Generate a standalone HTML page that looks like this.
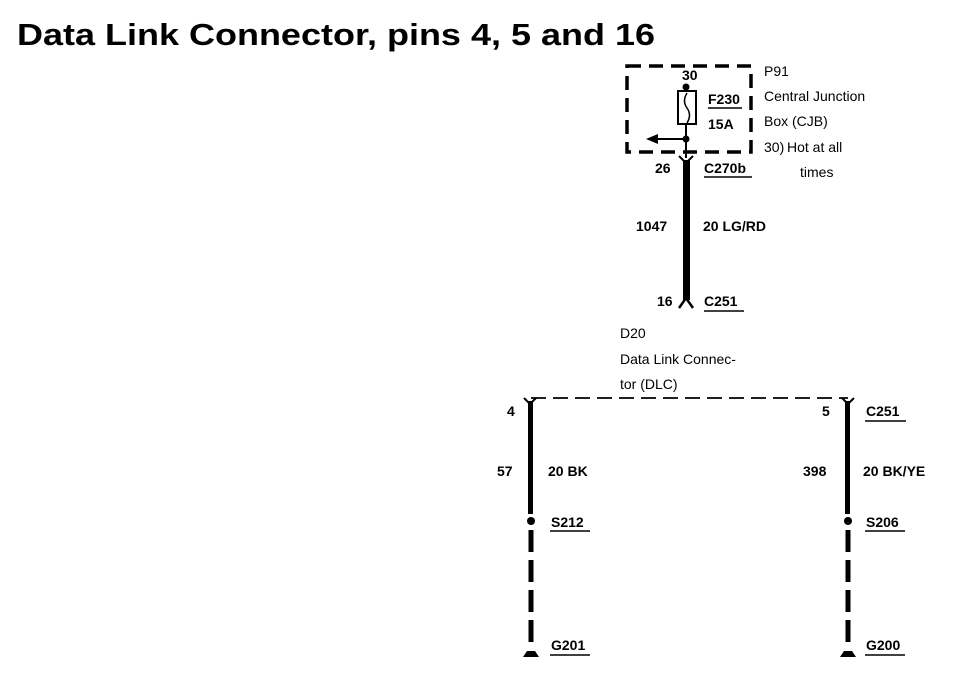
<!DOCTYPE html>
<html><head><meta charset="utf-8"><style>
html,body{margin:0;padding:0;background:#fff;}
svg{display:block;}
text{font-family:"Liberation Sans",Arial,sans-serif;fill:#000;}
.t{font-size:14px;}
.b{font-weight:bold;}
</style></head><body>
<svg width="960" height="684" viewBox="0 0 960 684" xmlns="http://www.w3.org/2000/svg">
<text x="17" y="45" font-size="31" font-weight="bold" textLength="638" lengthAdjust="spacingAndGlyphs">Data Link Connector, pins 4, 5 and 16</text>

<!-- CJB dashed box -->
<rect x="627" y="66" width="124" height="86" fill="none" stroke="#000" stroke-width="3.5" stroke-dasharray="14,8"/>
<line x1="686" y1="84" x2="686" y2="158" stroke="#000" stroke-width="2"/>
<circle cx="686" cy="87" r="3.5"/>
<rect x="678" y="91" width="18" height="33" fill="#fff" stroke="#000" stroke-width="2"/>
<path d="M687 93 q-5 8 0 15 q5 7 0 15" fill="none" stroke="#000" stroke-width="1.5"/>
<circle cx="686" cy="139" r="3.5"/>
<line x1="686" y1="139" x2="655" y2="139" stroke="#000" stroke-width="2"/>
<polygon points="646,139 658,134 658,144"/>
<!-- main wire -->
<path d="M679 156 L686 163 L693 156" fill="none" stroke="#000" stroke-width="2"/>
<rect x="683" y="160" width="7" height="140"/>
<path d="M679 308 L686 298 L693 308" fill="none" stroke="#000" stroke-width="2.5"/>

<text class="t b" x="682" y="80">30</text>
<text class="t b" x="708" y="104">F230</text>
<line x1="708" y1="108" x2="742" y2="108" stroke="#000" stroke-width="1.5"/>
<text class="t b" x="708" y="129">15A</text>
<text class="t" x="764" y="76">P91</text>
<text class="t" x="764" y="101">Central Junction</text>
<text class="t" x="764" y="126">Box (CJB)</text>
<text class="t" x="764" y="152">30)</text>
<text class="t" x="787" y="152">Hot at all</text>
<text class="t" x="800" y="177">times</text>
<text class="t b" x="655" y="173">26</text>
<text class="t b" x="704" y="173">C270b</text>
<line x1="704" y1="177" x2="752" y2="177" stroke="#000" stroke-width="1.5"/>
<text class="t b" x="636" y="231">1047</text>
<text class="t b" x="703" y="231">20 LG/RD</text>
<text class="t b" x="657" y="306">16</text>
<text class="t b" x="704" y="306">C251</text>
<line x1="704" y1="311" x2="744" y2="311" stroke="#000" stroke-width="1.5"/>

<text class="t" x="620" y="338">D20</text>
<text class="t" x="620" y="364">Data Link Connec-</text>
<text class="t" x="620" y="389">tor (DLC)</text>

<!-- DLC dashed line -->
<line x1="531" y1="398" x2="848" y2="398" stroke="#000" stroke-width="1.8" stroke-dasharray="15,7"/>
<path d="M524 398 L530 404 L536 398" fill="none" stroke="#000" stroke-width="2"/>
<path d="M842 398 L848 404 L854 398" fill="none" stroke="#000" stroke-width="2"/>

<!-- left wire -->
<rect x="528" y="401" width="5" height="113"/>
<circle cx="531" cy="521" r="4"/>
<line x1="531" y1="530" x2="531" y2="650" stroke="#000" stroke-width="5" stroke-dasharray="22,8"/>
<path d="M523 657 L539 657 L535 651 L527 651 Z"/>
<!-- right wire -->
<rect x="845" y="401" width="5" height="113"/>
<circle cx="848" cy="521" r="4"/>
<line x1="848" y1="530" x2="848" y2="650" stroke="#000" stroke-width="5" stroke-dasharray="22,8"/>
<path d="M840 657 L856 657 L852 651 L844 651 Z"/>

<text class="t b" x="507" y="416">4</text>
<text class="t b" x="497" y="476">57</text>
<text class="t b" x="548" y="476">20 BK</text>
<text class="t b" x="551" y="527">S212</text>
<line x1="550" y1="531" x2="590" y2="531" stroke="#000" stroke-width="1.5"/>
<text class="t b" x="551" y="650">G201</text>
<line x1="550" y1="655" x2="590" y2="655" stroke="#000" stroke-width="1.5"/>

<text class="t b" x="822" y="416">5</text>
<text class="t b" x="866" y="416">C251</text>
<line x1="865" y1="421" x2="906" y2="421" stroke="#000" stroke-width="1.5"/>
<text class="t b" x="803" y="476">398</text>
<text class="t b" x="863" y="476">20 BK/YE</text>
<text class="t b" x="866" y="527">S206</text>
<line x1="865" y1="531" x2="905" y2="531" stroke="#000" stroke-width="1.5"/>
<text class="t b" x="866" y="650">G200</text>
<line x1="865" y1="655" x2="905" y2="655" stroke="#000" stroke-width="1.5"/>
</svg>
</body></html>
